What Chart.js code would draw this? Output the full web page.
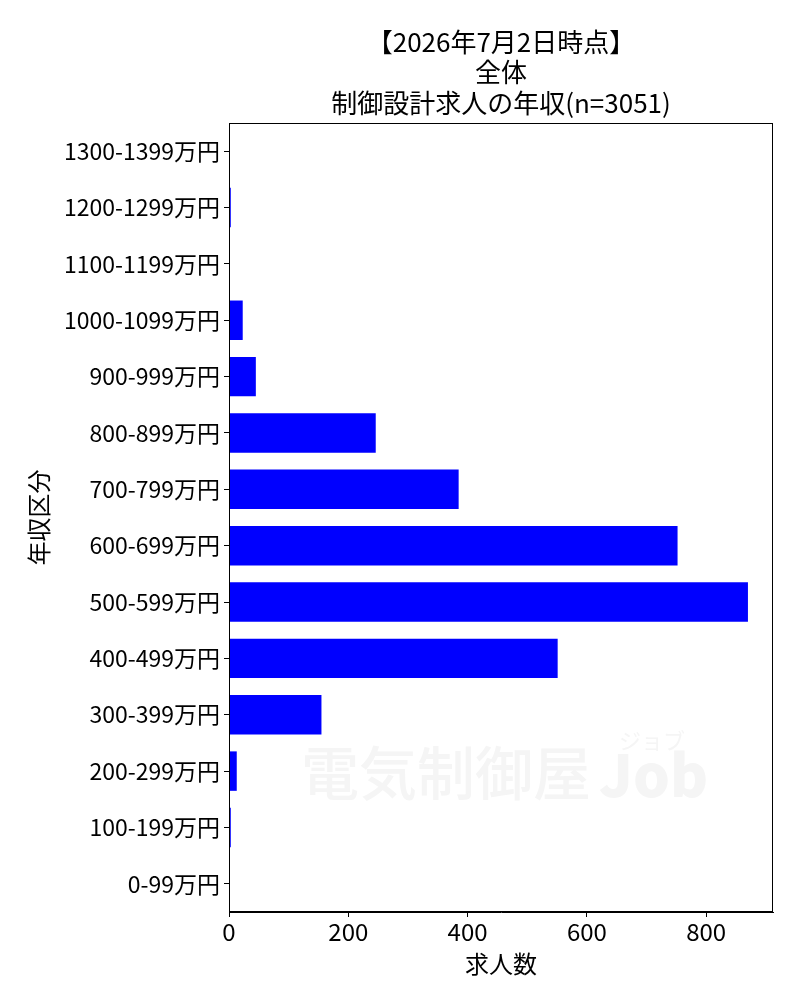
<!DOCTYPE html>
<html>
<head>
<meta charset="utf-8">
<script src="https://cdn.jsdelivr.net/npm/chart.js@4.4.1/dist/chart.umd.min.js"></script>
<style>
  body { margin: 0; background: #fff; }
  #wrap { width: 800px; height: 1000px; }
</style>
</head>
<body>
<div id="wrap">
  <canvas id="salaryChart" width="800" height="1000"></canvas>
</div>
<script>
// data (bottom category first)
var categories = ['0-99万円', '100-199万円', '200-299万円', '300-399万円', '400-499万円',
  '500-599万円', '600-699万円', '700-799万円', '800-899万円', '900-999万円',
  '1000-1099万円', '1100-1199万円', '1200-1299万円', '1300-1399万円'];
var counts = [0, 3, 13, 155, 551, 870, 752, 385, 246, 45, 23, 0, 3, 0];
var xTicks = [0, 200, 400, 600, 800];
var titleLines = ['【2026年7月2日時点】', '全体', '制御設計求人の年収(n=3051)'];

var FONT = "'Noto Sans CJK JP', 'DejaVu Sans', sans-serif";

// title over the plot area, box frame, faint watermark
var decor = {
  id: 'decor',
  beforeDatasetsDraw: function (chart) {
    var ctx = chart.ctx, a = chart.chartArea;
    ctx.save();
    ctx.fillStyle = '#f5f5f5';
    ctx.textBaseline = 'alphabetic';
    ctx.textAlign = 'left';
    ctx.font = '500 58px ' + FONT;
    ctx.fillText('電気制御屋', a.left + 72, a.bottom - 117);
    ctx.font = '900 58px ' + FONT;
    ctx.fillText('Job', a.left + 370, a.bottom - 115);
    ctx.font = '22px ' + FONT;
    ctx.fillText('ジョブ', a.left + 390, a.bottom - 163);
    ctx.restore();
  },
  afterDraw: function (chart) {
    var ctx = chart.ctx, a = chart.chartArea;
    ctx.save();
    ctx.strokeStyle = '#000';
    ctx.lineWidth = 1;
    ctx.strokeRect(a.left + 0.5, a.top + 0.5, a.right - a.left - 1, a.bottom - a.top - 1);
    ctx.fillStyle = '#000';
    ctx.font = '26px ' + FONT;
    ctx.textAlign = 'center';
    ctx.textBaseline = 'middle';
    var cx = (a.left + a.right) / 2;
    for (var i = 0; i < titleLines.length; i++) {
      ctx.fillText(titleLines[i], cx, 42 + i * 30.5);
    }
    ctx.restore();
  }
};

var ctx = document.getElementById('salaryChart').getContext('2d');
var chart = new Chart(ctx, {
  type: 'bar',
  data: {
    labels: categories,
    datasets: [{
      data: counts,
      backgroundColor: '#0000ff',
      borderWidth: 0,
      barPercentage: 0.7,
      categoryPercentage: 1.0
    }]
  },
  options: {
    indexAxis: 'y',
    responsive: false,
    devicePixelRatio: 1,
    animation: false,
    layout: { padding: { top: 123, right: 27, bottom: 20, left: 22 } },
    plugins: {
      legend: { display: false },
      tooltip: { enabled: false },
      title: { display: false }
    },
    scales: {
      y: {
        reverse: true,
        grid: { offset: false, drawOnChartArea: false, drawTicks: true, tickLength: 5, color: '#000' },
        border: { color: '#000', width: 1 },
        ticks: { color: '#000', font: { family: FONT, size: 23 }, padding: 4 },
        title: { display: true, text: '年収区分', color: '#000', font: { family: FONT, size: 24 }, padding: 2 },
        afterFit: function (scale) { scale.width = 229 - 22; }
      },
      x: {
        min: 0,
        max: 912,
        afterBuildTicks: function (scale) {
          scale.ticks = xTicks.map(function (v) { return { value: v }; });
        },
        grid: { drawOnChartArea: false, drawTicks: true, tickLength: 5, color: '#000' },
        border: { color: '#000', width: 1 },
        ticks: { color: '#000', font: { family: FONT, size: 24 }, padding: 0, maxRotation: 0 },
        title: { display: true, text: '求人数', color: '#000', font: { family: FONT, size: 24 }, padding: 2 },
        afterFit: function (scale) { scale.height = 1000 - 912 - 20; }
      }
    }
  },
  plugins: [decor]
});
</script>
</body>
</html>
